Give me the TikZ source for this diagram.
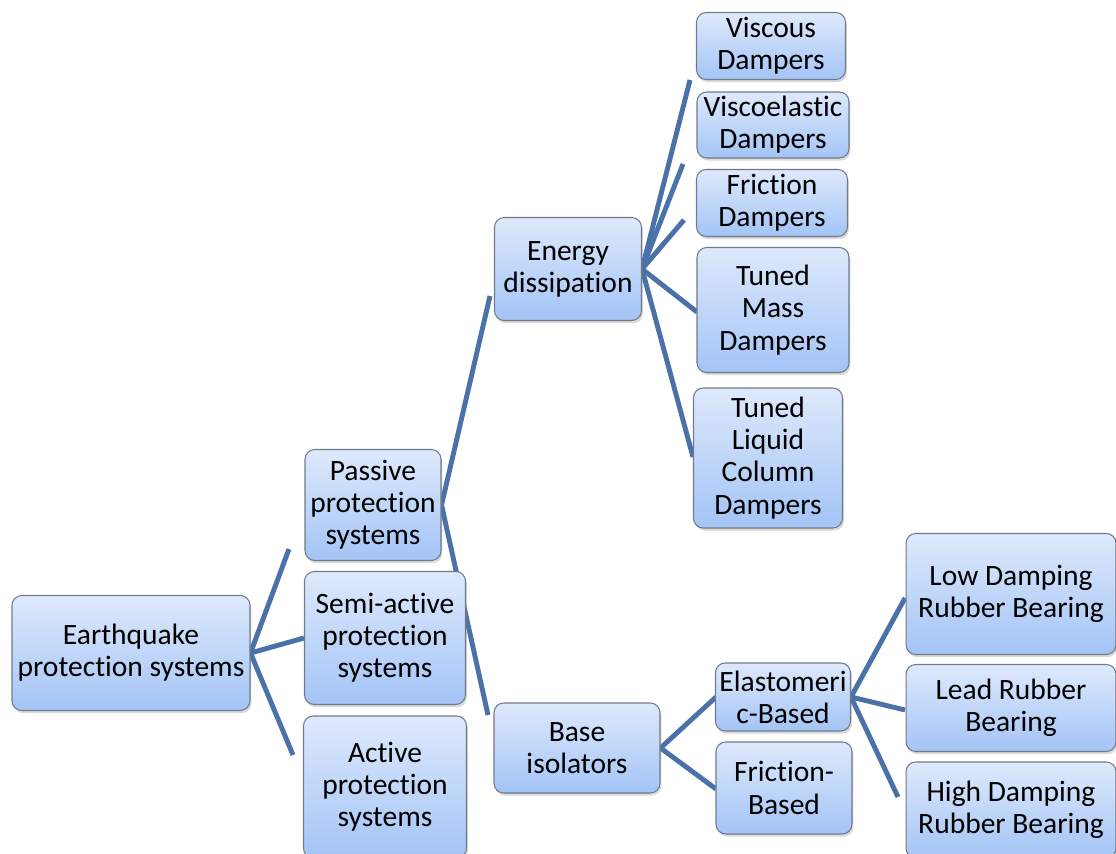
\documentclass[tikz,border=0pt]{standalone}
\usepackage{fontspec}
\setmainfont{Carlito}[Ligatures=NoCommon]
\usetikzlibrary{shadows,backgrounds}
\definecolor{trait}{RGB}{74,114,168}
\definecolor{haut}{RGB}{222,233,252}
\definecolor{bas}{RGB}{163,196,246}
\definecolor{bord}{RGB}{112,122,138}

\begin{document}
\begin{tikzpicture}[x=0.02cm,y=-0.02cm]
\tikzstyle{lien}=[trait,line width=2.8pt]
\tikzset{boite/.style 2 args={draw=bord,line width=0.6pt,rounded corners=5.5pt,
top color=haut,bottom color=bas,
drop shadow={shadow xshift=0.8pt,shadow yshift=-1.5pt,opacity=0.3},
align=center,inner sep=0pt,minimum width=#1cm,minimum height=#2cm,
font=\fontsize{16.8}{18.3}\selectfont}}
\useasboundingbox (0,0) rectangle (1116,854);

% niveau 1 et 2
\node[boite={4.76}{2.30}] (E) at (131,653) {Earthquake\\protection systems};
\node[boite={2.72}{2.22}] (P) at (373,505) {Passive\\protection\\systems};
\node[boite={3.22}{2.66}] (S) at (385,638) {Semi-active\\protection\\systems};
\node[boite={3.26}{2.84}] (A) at (385,787) {Active\\protection\\systems};

% niveau 3
\node[boite={2.94}{2.06}] (D) at (568,269) {Energy\\dissipation};
\node[boite={3.32}{1.80}] (B) at (577,748) {Base\\isolators};

% amortisseurs
\node[boite={2.98}{1.34}] (D1) at (771,46) {Viscous\\Dampers};
\node[boite={3.04}{1.32}] (D2) at (773,125) {Viscoelastic\\Dampers};
\node[boite={3.02}{1.34}] (D3) at (772,203) {Friction\\Dampers};
\node[boite={3.04}{2.50}] (D4) at (773,310) {Tuned\\Mass\\Dampers};
\node[boite={2.98}{2.80}] (D5) at (768,458) {Tuned\\Liquid\\Column\\Dampers};

% isolateurs
\node[boite={2.70}{1.36}] (B1) at (783,697) {Elastomeri\\c-Based};
\node[boite={2.72}{1.84}] (B2) at (784,788) {Friction-\\Based};
\node[boite={4.20}{2.42}] (R1) at (1011,594) {Low Damping\\Rubber Bearing};
\node[boite={4.20}{1.74}] (R2) at (1011,708) {Lead Rubber\\Bearing};
\node[boite={4.20}{1.92}] (R3) at (1011,810) {High Damping\\Rubber Bearing};

% bouts des liens
\coordinate (e1) at (289,549);
\coordinate (e2) at (304,638);
\coordinate (e3) at (293,755);
\coordinate (p1) at (490,296);
\coordinate (p2) at (488,715);
\coordinate (d1) at (690,80);
\coordinate (d2) at (683,164);
\coordinate (d3) at (684,220);
\coordinate (d4) at (697,312);
\coordinate (d5) at (693,457);
\coordinate (b1) at (716,697);
\coordinate (b2) at (716,789);
\coordinate (r1) at (905,598);
\coordinate (r2) at (905,710);
\coordinate (r3) at (898,797);

\begin{pgfonlayer}{background}
\foreach \x in {e1,e2,e3} \draw[lien] (E.east) -- (\x);
\foreach \x in {p1,p2} \draw[lien] (P.east) -- (\x);
\foreach \x in {d1,d2,d3,d4,d5} \draw[lien] (D.east) -- (\x);
\foreach \x in {b1,b2} \draw[lien] (B.east) -- (\x);
\foreach \x in {r1,r2,r3} \draw[lien] (B1.east) -- (\x);
\end{pgfonlayer}

\end{tikzpicture}
\end{document}
